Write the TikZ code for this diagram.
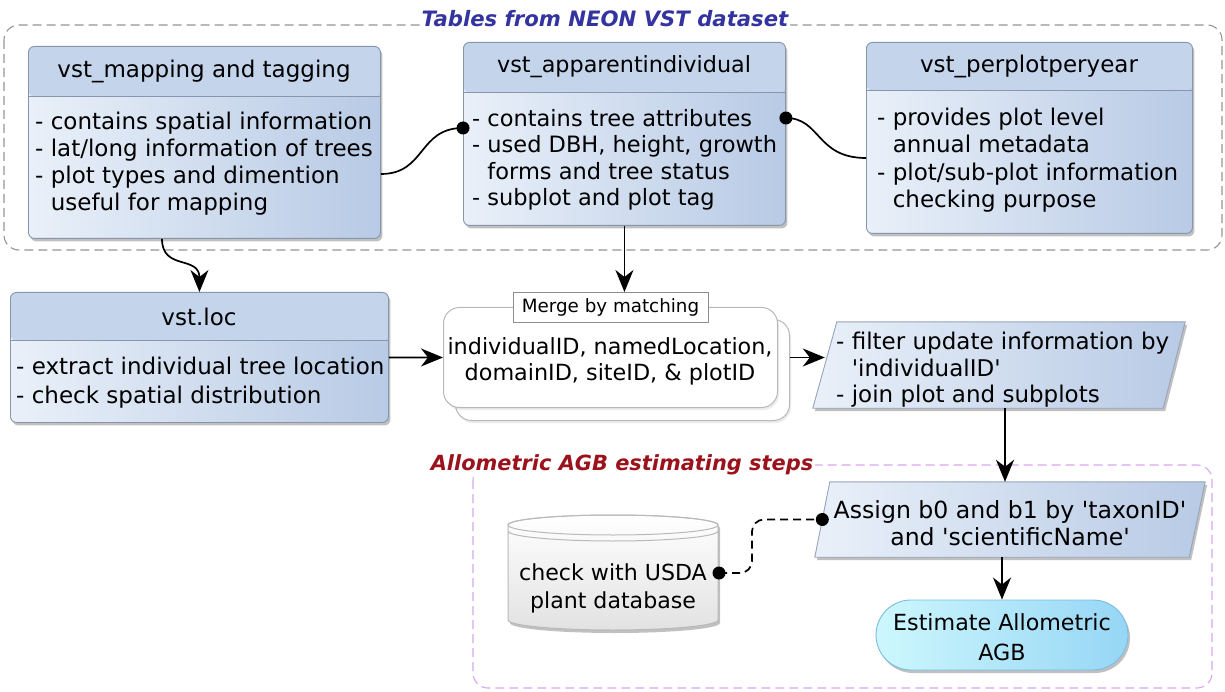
\documentclass[tikz,border=0pt]{standalone}
\usepackage{fontspec}
\setmainfont{DejaVu Sans}
\usetikzlibrary{shadows,arrows.meta,shapes.geometric,calc}
\definecolor{hdrc}{RGB}{196,212,235}
\definecolor{bodyL}{RGB}{233,240,249}
\definecolor{bodyR}{RGB}{184,202,229}
\definecolor{bord}{RGB}{135,150,172}
\definecolor{pbord}{RGB}{150,165,185}
\definecolor{mgray}{RGB}{185,185,185}
\definecolor{ttlblue}{RGB}{52,52,160}
\definecolor{ttlred}{RGB}{155,18,28}
\definecolor{grpgray}{RGB}{150,150,150}
\definecolor{grppink}{RGB}{218,165,238}
\definecolor{cyanL}{RGB}{205,247,253}
\definecolor{cyanR}{RGB}{150,214,245}
\definecolor{cyanB}{RGB}{120,190,225}
\definecolor{dbD}{RGB}{226,226,226}
\newcommand{\fsz}[1]{\fontsize{23}{#1}\selectfont}
\newcommand{\fsm}[1]{\fontsize{22.3}{#1}\selectfont}
\newcommand{\sq}{\textquotesingle}
\tikzset{
  shd/.style={drop shadow={shadow xshift=2pt,shadow yshift=-3pt,opacity=0.35,fill=black!70}},
  tbl/.style={draw=bord, line width=0.9pt, rounded corners=6pt, left color=bodyL, right color=bodyR,
    anchor=north west, inner sep=0pt, shd,
    path picture={\fill[hdrc] (path picture bounding box.north west) rectangle ([yshift=-#1]path picture bounding box.north east);
      \draw[bord,line width=0.9pt] ([yshift=-#1]path picture bounding box.north west) -- ([yshift=-#1]path picture bounding box.north east);}},
  hd/.style={inner sep=0pt, anchor=base, font=\fsz{27}},
  body/.style={inner sep=0pt, anchor=north west, align=left, font=\fsz{#1}},
  ctext/.style={inner sep=0pt, anchor=north, align=center, font=\fsz{#1}},
  conn/.style={line width=1.7pt, draw=black},
  arr/.style={conn, -{Stealth[length=22pt,width=18pt,inset=7pt]}},
  grp/.style={line width=1.1pt, dash pattern=on 9pt off 5pt, rounded corners=15pt},
  gttl/.style={fill=white, inner sep=2pt, anchor=base, font=\fontsize{#1}{24}\selectfont\bfseries\itshape},
  frame/.style={inner sep=0pt, rectangle},
  para/.style={draw=pbord, line width=0.9pt, left color=bodyL, right color=bodyR, shd},
  mbox/.style={draw=mgray, line width=1pt, fill=white, rounded corners=16pt, anchor=north west, inner sep=0pt,
    drop shadow={shadow xshift=1.5pt,shadow yshift=-2.5pt,opacity=0.15}},
  lbl/.style={draw=black!45, line width=0.8pt, fill=white, inner sep=0pt, anchor=north, minimum width=195pt, minimum height=30pt, font=\fontsize{18.3}{20}\selectfont},
  stad/.style={draw=cyanB, line width=0.9pt, left color=cyanL, right color=cyanR, rounded corners=35pt, inner sep=0pt, shd}
}
\begin{document}
\begin{tikzpicture}[x=1pt,y=-1pt]
\useasboundingbox[fill=white] (0,0) rectangle (1225,692);

% group frames
\draw[grp, draw=grpgray] (4,25) rectangle (1222,250);
\node[gttl=21.2, text=ttlblue] (t1) at (605,27) {Tables from NEON VST dataset};
\draw[grp, draw=grppink] (473,465) rectangle (1212,688);
\node[gttl=20.9, text=ttlred] (t2) at (622,470) {Allometric AGB estimating steps};

% table boxes
\node[tbl=50pt, minimum width=352pt, minimum height=192pt] (b1) at (28,46) {};
\node[hd] (b1h) at (204,78) {vst\_mapping and tagging};
\node[body=27pt] (b1t) at (35,112) {- contains spatial information\\- lat/long information of trees\\- plot types and dimention\\\hphantom{- }useful for mapping};

\node[tbl=50pt, minimum width=322pt, minimum height=183pt] (b2) at (463,42) {};
\node[hd, font=\fsm{27}] (b2h) at (624,73) {vst\_apparentindividual};
\node[body=26.5pt, font=\fontsize{22.5}{26.5}\selectfont] (b2t) at (472,109) {- contains tree attributes\\- used DBH, height, growth\\\hphantom{- }forms and tree status\\- subplot and plot tag};

\node[tbl=48pt, minimum width=326pt, minimum height=191pt] (b3) at (866,42) {};
\node[hd] (b3h) at (1029,73) {vst\_perplotperyear};
\node[body=27.3pt] (b3t) at (877,108) {- provides plot level\\\hphantom{- }annual metadata\\- plot/sub-plot information\\\hphantom{- }checking purpose};

\node[tbl=48pt, minimum width=378pt, minimum height=130pt] (loc) at (10,292) {};
\node[hd] (loch) at (199,325) {vst.loc};
\node[body=29pt] (loct) at (16,357) {- extract individual tree location\\- check spatial distribution};

% merge
\node[mbox, minimum width=334pt, minimum height=101pt] (mergeback) at (455,319) {};
\node[mbox, minimum width=334pt, minimum height=100pt] (merge) at (443,307) {};
\node[lbl] (mlabel) at (610.5,292) {Merge by matching};
\node[ctext=26pt, font=\fsm{26}] (mtext) at (610,337) {individualID, namedLocation,\\domainID, siteID, \& plotID};

% filter
\node[frame, minimum width=372pt, minimum height=86pt] (filt) at (999,365) {};
\path[para] (filt.south west) -- ([xshift=24pt]filt.north west) -- (filt.north east) -- ([xshift=-22pt]filt.south east) -- cycle;
\node[body=26.5pt] (filtt) at (836,332) {- filter update information by\\\hphantom{- }\sq individualID\sq\\- join plot and subplots};

% assign
\node[frame, minimum width=390pt, minimum height=75pt] (assign) at (1010,519.5) {};
\path[para] (assign.south west) -- ([xshift=15pt]assign.north west) -- (assign.north east) -- ([xshift=-16pt]assign.south east) -- cycle;
\node[ctext=27pt, font=\fontsize{23.6}{27}\selectfont] (assignt) at (1010,500) {Assign b0 and b1 by \sq taxonID\sq\\and \sq scientificName\sq};

% estimate
\node[stad, minimum width=252pt, minimum height=70pt] (est) at (1002,635) {};
\node[ctext=30pt, font=\fontsize{22.2}{30}\selectfont] (estt) at (1002,613) {Estimate Allometric\\AGB};

% database
\path[shd, top color=white, bottom color=dbD, draw=mgray, line width=1pt]
  (508,525) -- (508,620) arc[start angle=180,end angle=0,x radius=105,y radius=10]
  -- (718,525) arc[start angle=0,end angle=-180,x radius=105,y radius=10] -- cycle;
\draw[mgray, line width=1pt] (613,525) ellipse[x radius=105,y radius=10];
\draw[mgray, line width=1pt] (508,531) arc[start angle=180,end angle=0,x radius=105,y radius=10];
\node[ctext=28pt, font=\fontsize{22.1}{28}\selectfont] (db) at (613,564) {check with USDA\\plant database};
\coordinate (dbE) at (719,573);

% connectors
\coordinate (d1) at ([yshift=-86pt]b2.north west);
\draw[conn] ([yshift=-128pt]b1.north east) .. controls +(45,0) and +(-45,0) .. (d1);
\fill (d1) circle[radius=6.5];
\coordinate (d2) at ([yshift=-76pt]b2.north east);
\draw[conn] (d2) .. controls +(35,0) and +(-50,0) .. ([yshift=-116pt]b3.north west);
\fill (d2) circle[radius=6.5];
\draw[arr] ([xshift=134pt]b1.south west) .. controls +(0,32) and +(0,-37) .. (loc.north);
\draw[arr] (b2.south) -- (b2.south |- mlabel.north);
\draw[arr] (loc.east) -- (merge.west);
\coordinate (fin) at ([xshift=12pt]filt.west);
\draw[arr] (mergeback.east |- merge.east) -- (merge.east -| fin);
\draw[arr] ([xshift=6pt]filt.south) -- ([xshift=6pt]filt.south |- assign.north);
\draw[arr] (est.north |- assign.south) -- (est.north);
\coordinate (ain) at ([xshift=7.5pt]assign.west);
\draw[conn, dash pattern=on 8pt off 5pt, rounded corners=12pt] (dbE) -- ++(33,0) |- (ain);
\fill (dbE) circle[radius=6.5];
\fill (ain) circle[radius=6.5];
\end{tikzpicture}
\end{document}
